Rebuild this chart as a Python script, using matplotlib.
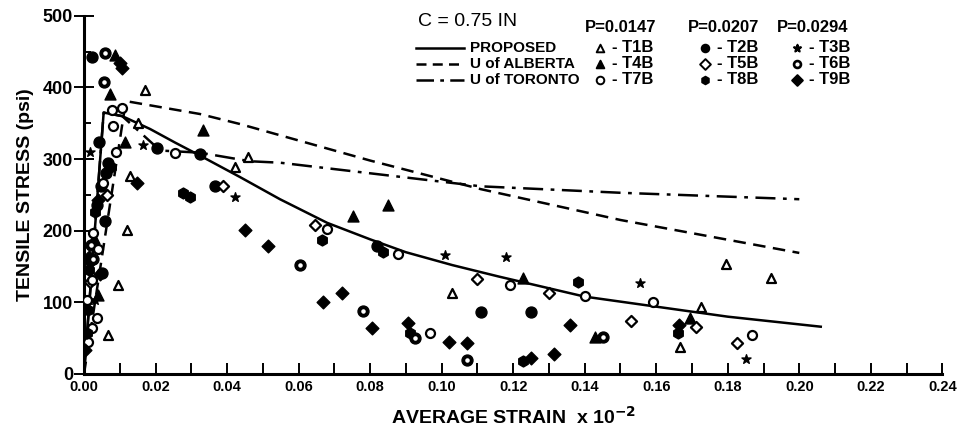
from matplotlib import pyplot as plt
from matplotlib.ticker import MultipleLocator

"""
    Tensile stress vs average strain, C = 0.75 in
"""

# analytical curves
proposed_x = [0, 0.0055, 0.0107, 0.0185, 0.0255, 0.0324, 0.0436, 0.0548, 0.068, 0.08, 0.09, 0.103, 0.116, 0.14, 0.16, 0.18, 0.206]
proposed_y = [0, 365, 360, 342, 323, 305, 275, 244, 211, 188, 170, 152, 136, 108, 94, 80, 66]

alberta_x = [0, 0.0117, 0.0324, 0.0436, 0.08, 0.111, 0.15, 0.20]
alberta_y = [0, 381, 363, 349, 298, 258, 215, 169]

toronto_x = [0, 0.0055, 0.0107, 0.0213, 0.0324, 0.0464, 0.0548, 0.111, 0.15, 0.20]
toronto_y = [0, 365, 360, 312, 309, 297, 295, 262, 253, 244]

# test specimens
t1b_x = [0.017, 0.015, 0.0129, 0.012, 0.0095, 0.0067, 0.0422, 0.0459, 0.103, 0.1667, 0.1725, 0.1796, 0.192]
t1b_y = [397, 351, 276, 201, 124, 55, 289, 303, 113, 38, 94, 154, 134]

t2b_x = [0.0042, 0.0204, 0.0324, 0.0366, 0.0059, 0.111, 0.125, 0.0067, 0.005, 0.082, 0.0022, 0.0062, 0.0048, 0.0035]
t2b_y = [324, 316, 307, 263, 214, 87, 87, 295, 141, 178, 443, 280, 262, 236]

t3b_x = [0.0017, 0.0165, 0.0422, 0.101, 0.118, 0.1555, 0.185, 0.0011, 0.003, 0.001]
t3b_y = [310, 320, 247, 166, 163, 127, 21, 103, 103, 60]

t4b_x = [0.0087, 0.0073, 0.0333, 0.0752, 0.085, 0.1228, 0.143, 0.1695, 0.0115, 0.004, 0.0028]
t4b_y = [446, 391, 341, 221, 236, 134, 52, 78, 324, 110, 190]

t5b_x = [0.0389, 0.0646, 0.110, 0.130, 0.153, 0.171, 0.1826, 0.0017, 0.0064]
t5b_y = [262, 208, 133, 113, 74, 66, 43, 129, 250]

t6b_x = [0.0059, 0.0056, 0.0604, 0.078, 0.0926, 0.107, 0.145, 0.0025, 0.002]
t6b_y = [448, 408, 152, 88, 50, 20, 52, 160, 180]

t7b_x = [0.0078, 0.0106, 0.0081, 0.009, 0.0255, 0.068, 0.0878, 0.0968, 0.119, 0.140, 0.159, 0.1868,
         0.0053, 0.0025, 0.0039, 0.0022, 0.0036, 0.0022, 0.0011, 0.0008]
t7b_y = [369, 372, 346, 310, 309, 203, 168, 57, 124, 109, 101, 55,
         267, 197, 175, 131, 78, 64, 45, 103]

t8b_x = [0.0277, 0.0296, 0.0666, 0.0836, 0.0912, 0.1228, 0.138, 0.166, 0.0075, 0.003, 0.0008, 0.0015, 0.0012]
t8b_y = [253, 247, 187, 171, 57, 18, 129, 57, 289, 226, 57, 145, 90]

t9b_x = [0.010, 0.0106, 0.0148, 0.045, 0.0515, 0.0668, 0.072, 0.0806, 0.0906, 0.102, 0.107, 0.125,
         0.1315, 0.136, 0.1665, 0.0039, 0.0014, 0.0017, 0.0003, 0.0045]
t9b_y = [434, 427, 267, 201, 178, 101, 113, 64, 71, 45, 43, 22,
         28, 68, 68, 243, 164, 157, 33, 140]

x_ticks = [0.00, 0.02, 0.04, 0.06, 0.08, 0.10, 0.12, 0.14, 0.16, 0.18, 0.20, 0.22, 0.24]
x_tick_labels = ['0.00', '0.02', '0.04', '0.06', '0.08', '0.10', '0.12', '0.14', '0.16', '0.18', '0.20', '0.22', '0.24']
y_ticks = [0, 100, 200, 300, 400, 500]

plt.rcParams['font.family'] = ['Liberation Sans', 'DejaVu Sans']
plt.rcParams['mathtext.default'] = 'bf'

fig = plt.figure(figsize=(9.71, 4.41), dpi=100)
ax = fig.add_axes([0.0865, 0.152, 0.884, 0.812])

lw = 1.8
ax.plot(proposed_x, proposed_y, color='black', lw=lw, ls='-')
ax.plot(alberta_x, alberta_y, color='black', lw=lw, ls=(0, (5, 3)))
ax.plot(toronto_x, toronto_y, color='black', lw=lw, ls=(0, (8, 3, 1.5, 3)))

# marker styles per specimen
ms = 42
ax.scatter(t1b_x, t1b_y, marker='^', s=ms, facecolors='white', edgecolors='black', linewidths=1.6, zorder=3)
ax.scatter(t2b_x, t2b_y, marker='o', s=ms + 20, color='black', zorder=3)
ax.scatter(t3b_x, t3b_y, marker='*', s=ms + 5, color='black', zorder=3)
ax.scatter(t4b_x, t4b_y, marker='^', s=ms + 20, color='black', zorder=3)
ax.scatter(t5b_x, t5b_y, marker='D', s=ms - 10, facecolors='white', edgecolors='black', linewidths=1.6, zorder=3)
ax.scatter(t6b_x, t6b_y, marker='o', s=ms + 20, color='black', zorder=3)
ax.scatter(t6b_x, t6b_y, marker='o', s=5, color='white', zorder=4)
ax.scatter(t7b_x, t7b_y, marker='o', s=ms, facecolors='white', edgecolors='black', linewidths=1.6, zorder=3)
ax.scatter(t8b_x, t8b_y, marker='h', s=ms + 20, color='black', zorder=3)
ax.scatter(t9b_x, t9b_y, marker='D', s=ms, color='black', zorder=3)

ax.set_xlim(0, 0.24)
ax.set_ylim(0, 500)
ax.spines['top'].set_visible(False)
ax.spines['right'].set_visible(False)
ax.spines['left'].set_linewidth(2.2)
ax.spines['bottom'].set_linewidth(2.2)

ax.set_xticks(x_ticks)
ax.set_xticklabels(x_tick_labels, fontsize=10.5, fontweight='bold')
ax.xaxis.set_minor_locator(MultipleLocator(0.01))
ax.tick_params(axis='x', which='both', direction='in', length=8, width=1.4, pad=4)
ax.set_yticks(y_ticks)
ax.set_yticklabels([str(v) for v in y_ticks], fontsize=13, fontweight='bold')
ax.yaxis.set_minor_locator(MultipleLocator(50))
ax.tick_params(axis='y', which='major', direction='inout', length=14, width=1.4, pad=1)
ax.tick_params(axis='y', which='minor', direction='in', length=5, width=1.4)

ax.set_xlabel('AVERAGE STRAIN  x 10$^{-2}$', fontsize=14, fontweight='bold', labelpad=9)
ax.set_ylabel('TENSILE STRESS (psi)', fontsize=14, fontweight='bold', labelpad=6)


# legend drawn by hand, positions in axes fraction
def px(x, y):
    return (x - 84) / 858, (374 - y) / 358


tr = ax.transAxes
ax.text(*px(418, 22), 'C = 0.75 IN', transform=tr, fontsize=14, va='center')
for x0, txt in [(585, 'P=0.0147'), (688, 'P=0.0207'), (777, 'P=0.0294')]:
    ax.text(*px(x0, 28), txt, transform=tr, fontsize=12, fontweight='bold', va='center')

line_rows = [('PROPOSED', '-', 48), ('U of ALBERTA', (0, (4, 2.5)), 64), ('U of TORONTO', (0, (7, 2.5, 1.5, 2.5)), 80)]
for label, style, yy in line_rows:
    xa, ya = px(416, yy)
    xb, _ = px(464, yy)
    ax.plot([xa, xb], [ya, ya], transform=tr, color='black', lw=lw, ls=style, clip_on=False)
    ax.text(*px(470, yy), label, transform=tr, fontsize=11, fontweight='bold', va='center')

legend_marks = [
    (600, 48, '^', 'white', '- T1B'), (705, 48, 'o', 'black', '- T2B'), (797, 48, '*', 'black', '- T3B'),
    (600, 64, '^', 'black', '- T4B'), (705, 64, 'D', 'white', '- T5B'), (797, 64, 'o', 'black', '- T6B'),
    (600, 80, 'o', 'white', '- T7B'), (705, 80, 'h', 'black', '- T8B'), (797, 80, 'D', 'black', '- T9B'),
]
for xx, yy, mk, fc, label in legend_marks:
    mx, my = px(xx, yy)
    ax.scatter([mx], [my], transform=tr, marker=mk, s=30, facecolors=fc, edgecolors='black',
               linewidths=1.4, clip_on=False, zorder=5)
    ax.text(*px(xx + 12, yy), label, transform=tr, fontsize=12, fontweight='bold', va='center')
mx, my = px(797, 64)
ax.scatter([mx], [my], transform=tr, marker='o', s=4, color='white', clip_on=False, zorder=6)

plt.savefig('out.png', dpi=100)
